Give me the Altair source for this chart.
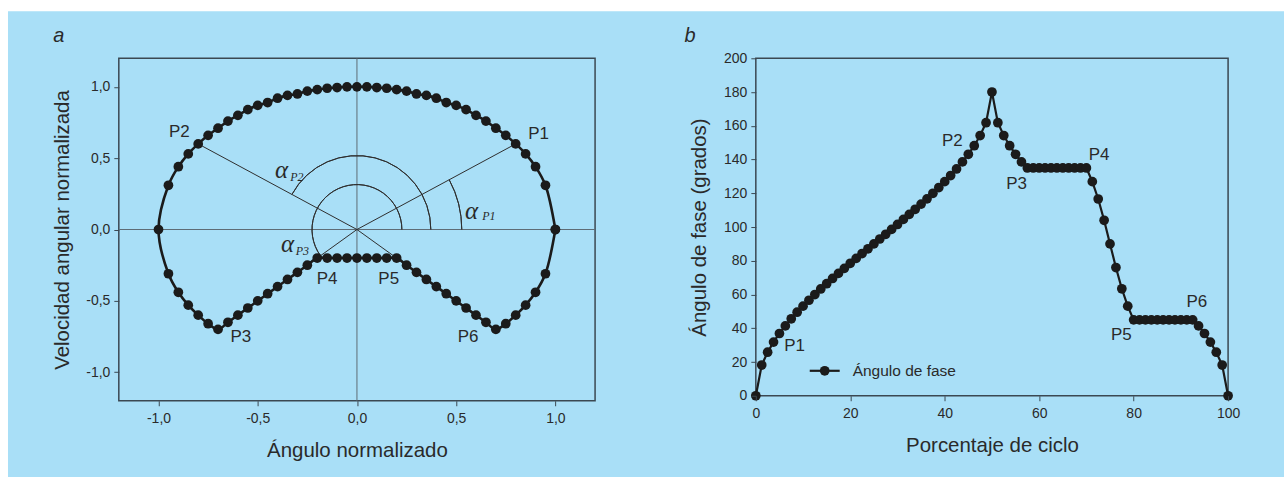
import altair as alt
import pandas as pd

# ---------------- data ----------------
# percentage of cycle (panel b x) — one sample every 1.25 %
porcentaje = [0, 1.25, 2.5, 3.75, 5, 6.25, 7.5, 8.75, 10, 11.25, 12.5, 13.75, 15, 16.25,
              17.5, 18.75, 20, 21.25, 22.5, 23.75, 25, 26.25, 27.5, 28.75, 30, 31.25, 32.5,
              33.75, 35, 36.25, 37.5, 38.75, 40, 41.25, 42.5, 43.75, 45, 46.25, 47.5, 48.75,
              50, 51.25, 52.5, 53.75, 55, 56.25, 57.5, 58.75, 60, 61.25, 62.5, 63.75, 65,
              66.25, 67.5, 68.75, 70, 71.25, 72.5, 73.75, 75, 76.25, 77.5, 78.75, 80, 81.25,
              82.5, 83.75, 85, 86.25, 87.5, 88.75, 90, 91.25, 92.5, 93.75, 95, 96.25, 97.5,
              98.75, 100]

# panel a: normalised angle (x) and normalised angular velocity (y)
angulo_norm = [1.0, 0.95, 0.9, 0.85, 0.8, 0.75, 0.7, 0.65, 0.6, 0.55, 0.5, 0.45, 0.4, 0.35,
               0.3, 0.25, 0.2, 0.15, 0.1, 0.05, 0.0, -0.05, -0.1, -0.15, -0.2, -0.25, -0.3,
               -0.35, -0.4, -0.45, -0.5, -0.55, -0.6, -0.65, -0.7, -0.75, -0.8, -0.85, -0.9,
               -0.95, -1.0,
               -0.95, -0.9, -0.85, -0.8, -0.75, -0.7, -0.65, -0.6, -0.55, -0.5, -0.45, -0.4,
               -0.35, -0.3, -0.25, -0.2, -0.15, -0.1, -0.05, 0.0, 0.05, 0.1, 0.15, 0.2, 0.25,
               0.3, 0.35, 0.4, 0.45, 0.5, 0.55, 0.6, 0.65, 0.7, 0.75, 0.8, 0.85, 0.9, 0.95, 1.0]
velocidad_norm = [0.0, 0.31, 0.44, 0.53, 0.6, 0.66, 0.71, 0.76, 0.8, 0.84, 0.87, 0.89, 0.92,
                  0.94, 0.95, 0.97, 0.98, 0.99, 0.995, 1.0, 1.0, 1.0, 0.995, 0.99, 0.98, 0.97,
                  0.95, 0.94, 0.92, 0.89, 0.87, 0.84, 0.8, 0.76, 0.71, 0.66, 0.6, 0.53, 0.44,
                  0.31, 0.0,
                  -0.31, -0.44, -0.53, -0.6, -0.66, -0.7, -0.65, -0.6, -0.55, -0.5, -0.45, -0.4,
                  -0.35, -0.3, -0.25, -0.2, -0.2, -0.2, -0.2, -0.2, -0.2, -0.2, -0.2, -0.2,
                  -0.25, -0.3, -0.35, -0.4, -0.45, -0.5, -0.55, -0.6, -0.65, -0.7, -0.66, -0.6,
                  -0.53, -0.44, -0.31, 0.0]

# panel b: phase angle (degrees)
angulo_fase = [0.0, 18.2, 25.8, 31.8, 36.9, 41.4, 45.6, 49.5, 53.1, 56.6, 60.0, 63.3, 66.4,
               69.5, 72.5, 75.5, 78.5, 81.4, 84.3, 87.1, 90.0, 92.9, 95.7, 98.6, 101.5, 104.5,
               107.5, 110.5, 113.6, 116.7, 120.0, 123.4, 126.9, 130.5, 134.4, 138.6, 143.1,
               148.2, 154.2, 161.8, 180.0,
               161.8, 154.2, 148.2, 143.1, 138.6, 135.0, 135.0, 135.0, 135.0, 135.0, 135.0,
               135.0, 135.0, 135.0, 135.0, 135.0, 126.9, 116.6, 104.0, 90.0, 76.0, 63.4, 53.1,
               45.0, 45.0, 45.0, 45.0, 45.0, 45.0, 45.0, 45.0, 45.0, 45.0, 45.0, 41.4, 36.9,
               31.8, 25.8, 18.2, 0.0]

# radial lines from origin to P1, P2, P4, P5 (panel a)
radial_x = [0.8, -0.8, -0.2, 0.2]
radial_y = [0.6, 0.6, -0.2, -0.2]

# point labels
a_lab = ["P1", "P2", "P3", "P4", "P5", "P6"]
a_lab_x = [0.915, -0.895, -0.585, -0.15, 0.16, 0.56]
a_lab_y = [0.67, 0.685, -0.755, -0.35, -0.35, -0.755]

b_lab = ["P1", "P2", "P3", "P4", "P5", "P6"]
b_lab_x = [8.2, 41.6, 55.2, 72.7, 77.4, 93.4]
b_lab_y = [29.6, 150.9, 125.4, 142.6, 36.1, 55.6]

# angle arcs (radians, Vega convention) and pixel radii
arc_start = [1.077, -1.075, -2.194]
arc_end = [1.5708, 1.5708, 1.5708]
arc_r = [105, 74, 45]

# alpha labels
alpha_x = [0.577, -0.38, -0.35]
alpha_y = [0.133, 0.42, -0.105]
alpha_sub = ["P1", "P2", "P3"]
alpha_sub_x = [0.665, -0.303, -0.275]
alpha_sub_y = [0.096, 0.37, -0.15]

# ---------------- styling ----------------
W_A, H_A = 477, 343
W_B, H_B = 473, 338
BG = "#a9dff7"
INK = "#1b1b1b"
FRAME = "#3b4852"
CROSS = "#5d6b75"
TXT = "#2a2a2a"
FONT = "Liberation Sans Narrow, Arial Narrow, Liberation Sans, Arial, sans-serif"
SERIF = "Liberation Serif, Times New Roman, serif"
DOT = 95

one = pd.DataFrame({"k": [0]})
df_a = pd.DataFrame({"t": porcentaje, "x": angulo_norm, "y": velocidad_norm})
df_b = pd.DataFrame({"t": porcentaje, "f": angulo_fase})
df_rad = pd.DataFrame({"x0": [0] * 4, "y0": [0] * 4, "x1": radial_x, "y1": radial_y})
df_alab = pd.DataFrame({"x": a_lab_x, "y": a_lab_y, "lab": a_lab})
df_blab = pd.DataFrame({"x": b_lab_x, "y": b_lab_y, "lab": b_lab})
df_arc = pd.DataFrame({"s": arc_start, "e": arc_end, "r": arc_r})
df_alpha = pd.DataFrame({"x": alpha_x, "y": alpha_y, "sx": alpha_sub_x, "sy": alpha_sub_y,
                         "sub": alpha_sub})

comma = "replace(replace(format(datum.value, '.1f'), '.', ','), '\u2212', '-')"

xa_scale = alt.Scale(domain=[-1.2, 1.2], nice=False, zero=False)
ya_scale = alt.Scale(domain=[-1.2, 1.2], nice=False, zero=False)

common_axis = dict(zindex=1, labelFlush=False, labelOverlap=False, domain=False, grid=False,
                   tickCount=30)

xa_axis = alt.Axis(values=[-1, -0.5, 0, 0.5, 1], labelExpr=comma,
                   title="Ángulo normalizado", titleY=50, titleBaseline="middle",
                   labelPadding=6, **common_axis)
ya_axis = alt.Axis(values=[-1, -0.5, 0, 0.5, 1], labelExpr=comma,
                   title="Velocidad angular normalizada", titleX=-56, titleY=H_A / 2,
                   titleBaseline="middle", labelPadding=4, **common_axis)

# ---- panel a ----
bg_white = alt.Chart(one).mark_rect(color="white").encode(
    x=alt.value(-118), x2=alt.value(1167), y=alt.value(-57), y2=alt.value(420))
bg_blue = alt.Chart(one).mark_rect(color=BG).encode(
    x=alt.value(-111), x2=alt.value(1167), y=alt.value(-47), y2=alt.value(420))
frame_a = alt.Chart(one).mark_rect(fillOpacity=0, stroke=FRAME, strokeWidth=1.5).encode(
    x=alt.value(0), x2=alt.value(W_A), y=alt.value(0), y2=alt.value(H_A))
vline = alt.Chart(one).mark_rule(color=CROSS, strokeWidth=1).encode(
    x=alt.datum(0, scale=xa_scale, axis=xa_axis))
hline = alt.Chart(one).mark_rule(color=CROSS, strokeWidth=1).encode(
    y=alt.datum(0, scale=ya_scale, axis=ya_axis))
radial = alt.Chart(df_rad).mark_rule(color="#2e2e2e", strokeWidth=1).encode(
    x="x0:Q", y="y0:Q", x2="x1:Q", y2="y1:Q")
arcs = alt.Chart(df_arc).mark_arc(fillOpacity=0, stroke="#2e2e2e", strokeWidth=1).encode(
    theta=alt.Theta("s:Q", scale=None, stack=False),
    theta2="e:Q",
    radius=alt.Radius("r:Q", scale=None),
    radius2="r:Q")
alpha_txt = alt.Chart(df_alpha).mark_text(
    text="α", font=SERIF, fontStyle="italic", fontSize=25, color=TXT,
    baseline="middle", align="center").encode(x="x:Q", y="y:Q")
alpha_sub_txt = alt.Chart(df_alpha).mark_text(
    font=SERIF, fontStyle="italic", fontSize=12, color=TXT,
    baseline="middle", align="center").encode(x="sx:Q", y="sy:Q", text="sub:N")
curve_a = alt.Chart(df_a).mark_line(color=INK, strokeWidth=2.6, interpolate="catmull-rom").encode(
    x=alt.X("x:Q", scale=xa_scale, axis=xa_axis),
    y=alt.Y("y:Q", scale=ya_scale, axis=ya_axis),
    order="t:Q")
pts_a = alt.Chart(df_a).mark_circle(color=INK, size=DOT, opacity=1).encode(x="x:Q", y="y:Q")
lab_a = alt.Chart(df_alab).mark_text(font=FONT, fontSize=17, color=TXT,
                                     baseline="middle", align="center").encode(
    x="x:Q", y="y:Q", text="lab:N")
tag_a = alt.Chart(one).mark_text(text="a", font=FONT, fontStyle="italic", fontSize=20,
                                 color=TXT, baseline="middle", align="center").encode(
    x=alt.value(-60), y=alt.value(-22))

panel_a = alt.layer(bg_white, bg_blue, frame_a, vline, hline, radial, arcs, alpha_txt,
                    alpha_sub_txt, curve_a, pts_a, lab_a, tag_a).properties(
    width=W_A, height=H_A)

# ---- panel b ----
xb_scale = alt.Scale(domain=[0, 100], nice=False)
yb_scale = alt.Scale(domain=[0, 200], nice=False)
xb_axis = alt.Axis(values=[0, 20, 40, 60, 80, 100], title="Porcentaje de ciclo",
                   titleY=50, titleBaseline="middle", labelPadding=6, format="d",
                   **common_axis)
yb_axis = alt.Axis(values=[0, 20, 40, 60, 80, 100, 120, 140, 160, 180, 200],
                   title="Ángulo de fase (grados)",
                   titleX=-56, titleY=H_B / 2, titleBaseline="middle", labelPadding=4,
                   format="d", **common_axis)

frame_b = alt.Chart(one).mark_rect(fillOpacity=0, stroke=FRAME, strokeWidth=1.5).encode(
    x=alt.value(0), x2=alt.value(W_B), y=alt.value(0), y2=alt.value(H_B))
line_b = alt.Chart(df_b).mark_line(color=INK, strokeWidth=2.2).encode(
    x=alt.X("t:Q", scale=xb_scale, axis=xb_axis),
    y=alt.Y("f:Q", scale=yb_scale, axis=yb_axis),
    order="t:Q")
pts_b = alt.Chart(df_b).mark_circle(color=INK, size=DOT, opacity=1).encode(x="t:Q", y="f:Q")
lab_b = alt.Chart(df_blab).mark_text(font=FONT, fontSize=17, color=TXT,
                                     baseline="middle", align="center").encode(
    x="x:Q", y="y:Q", text="lab:N")
leg_line = alt.Chart(one).mark_rule(color=INK, strokeWidth=2.2).encode(
    x=alt.value(54), x2=alt.value(84), y=alt.value(313))
leg_pt = alt.Chart(one).mark_circle(color=INK, size=DOT, opacity=1).encode(
    x=alt.value(69), y=alt.value(313))
leg_txt = alt.Chart(one).mark_text(text="Ángulo de fase", font=FONT, fontSize=15.5, color=TXT,
                                   baseline="middle", align="left").encode(
    x=alt.value(97), y=alt.value(313))
tag_b = alt.Chart(one).mark_text(text="b", font=FONT, fontStyle="italic", fontSize=20,
                                 color=TXT, baseline="middle", align="center").encode(
    x=alt.value(-66), y=alt.value(-22))

panel_b = alt.layer(frame_b, line_b, pts_b, lab_b, leg_line, leg_pt, leg_txt, tag_b).properties(
    width=W_B, height=H_B)

chart = alt.hconcat(panel_a, panel_b, spacing=161, bounds="flush").properties(
    padding=0, background="white"
).configure_view(stroke="transparent").configure_axis(
    labelFont=FONT, labelFontSize=14, labelColor=TXT,
    titleFont=FONT, titleFontSize=20.5, titleColor=TXT, titleFontWeight="normal",
    tickColor=FRAME, tickSize=5, tickWidth=1)

chart.save("out.html", embed_options={"renderer": "svg", "actions": False})
